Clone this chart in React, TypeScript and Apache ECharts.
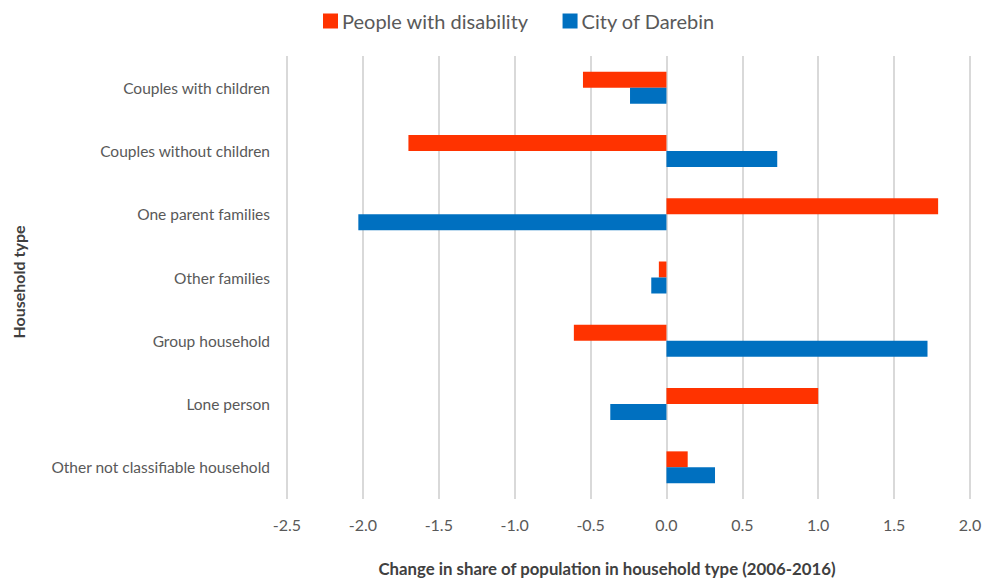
import React, { useEffect, useRef } from "react";
import * as echarts from "echarts";

const categories = [
  "Couples with children",
  "Couples without children",
  "One parent families",
  "Other families",
  "Group household",
  "Lone person",
  "Other not classifiable household",
];
const disabilityChange = [-0.55, -1.7, 1.79, -0.05, -0.61, 1.0, 0.14];
const darebinChange = [-0.24, 0.73, -2.03, -0.1, 1.72, -0.37, 0.32];
const seriesNames = ["People with disability", "City of Darebin"];
const xMin = -2.5;
const xMax = 2.0;
const xStep = 0.5;

const FONT = "Lato, 'Open Sans', sans-serif";
const RED = "#FF3300";
const BLUE = "#0070C0";
const GRID = "#D9D9D9";
const TEXT = "#595959";

export default function App() {
  const ref = useRef<HTMLDivElement>(null);

  useEffect(() => {
    if (!ref.current) return;
    const chart = echarts.init(ref.current, null, { renderer: "svg" });
    chart.setOption({
      animation: false,
      textStyle: { fontFamily: FONT },
      legend: {
        top: 11,
        left: 323,
        padding: 0,
        itemWidth: 15,
        itemHeight: 15,
        itemGap: 34,
        icon: "rect",
        textStyle: { fontSize: 20, color: TEXT, fontFamily: FONT, padding: [0, 0, 0, -1] },
        data: seriesNames,
      },
      grid: { left: 287, right: 17, top: 56, bottom: 81 },
      xAxis: {
        type: "value",
        min: xMin,
        max: xMax,
        interval: xStep,
        axisLine: { show: false },
        axisTick: { show: false },
        axisLabel: {
          color: TEXT,
          fontSize: 16,
          margin: 17,
          formatter: (v: number) => v.toFixed(1),
        },
        splitLine: { show: true, lineStyle: { color: GRID, width: 2 } },
      },
      yAxis: {
        type: "category",
        inverse: true,
        data: categories,
        axisLine: { show: false },
        axisTick: { show: false },
        axisLabel: { color: TEXT, fontSize: 15.5, margin: 17 },
        splitLine: { show: false },
      },
      graphic: [
        {
          type: "text",
          x: 607,
          y: 568,
          style: {
            text: "Change in share of population in household type (2006-2016)",
            fontSize: 16.8,
            fontWeight: "bold",
            fill: "#404040",
            fontFamily: FONT,
            align: "center",
            verticalAlign: "middle",
          },
        },
        {
          type: "text",
          x: 18,
          y: 282,
          rotation: Math.PI / 2,
          style: {
            text: "Household type",
            fontSize: 16,
            fontWeight: "bold",
            fill: "#404040",
            fontFamily: FONT,
            align: "center",
            verticalAlign: "middle",
          },
        },
      ],
      series: [
        {
          name: seriesNames[0],
          type: "bar",
          data: disabilityChange,
          barWidth: 16,
          barGap: "0%",
          itemStyle: { color: RED },
        },
        {
          name: seriesNames[1],
          type: "bar",
          data: darebinChange,
          barWidth: 16,
          barGap: "0%",
          itemStyle: { color: BLUE },
        },
      ],
    });
    return () => chart.dispose();
  }, []);

  return (
    <div
      ref={ref}
      style={{ position: "fixed", left: 0, top: 0, width: 987, height: 580, background: "#fff" }}
    />
  );
}
